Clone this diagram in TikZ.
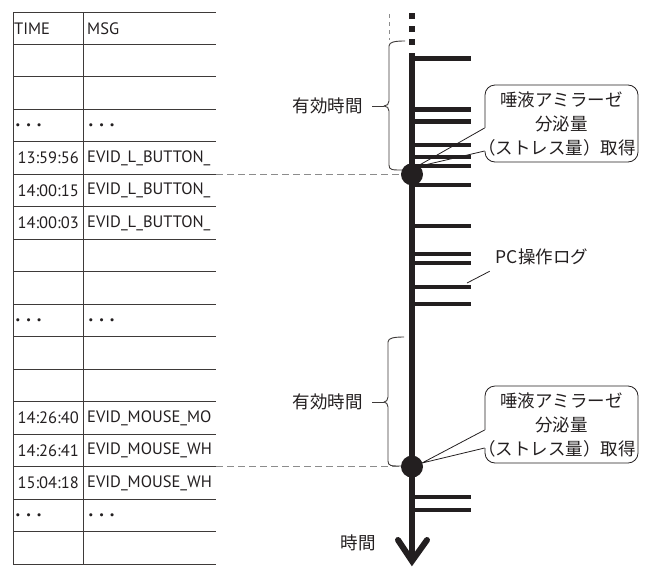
\documentclass[tikz,border=0pt]{standalone}
\usepackage{fontspec}
\setmainfont{Noto Sans CJK JP}
\newfontfamily\tablefont{PT Sans}
\usepackage{tikz}
\usetikzlibrary{calc}
\definecolor{ink}{HTML}{231F20}
\definecolor{rule}{HTML}{3E3A39}
\definecolor{dashgray}{HTML}{8C8C8C}
\def\rowh{32.47}

\begin{document}
\begin{tikzpicture}[x=1pt,y=-1pt,line join=round]
    		\tikzstyle{cell}=[inner sep=0pt,text=ink,font=\tablefont\fontsize{16.5}{18}\selectfont]
    		\tikzstyle{time cell}=[cell,anchor=east]
    		\tikzstyle{msg cell}=[cell,anchor=west]
    		\tikzstyle{dots cell}=[cell,anchor=west,font=\fontsize{20}{20}\selectfont\boldmath]
    		\tikzstyle{log tick}=[draw=ink,line width=4.3pt]
    		\tikzstyle{stress dot}=[circle,fill=ink,minimum size=22pt,inner sep=0pt]
    		\tikzstyle{callout box}=[draw=ink,line width=0.8pt,rounded corners=10pt,minimum width=153pt,minimum height=77pt,inner sep=0pt,align=center,text=ink,font=\fontsize{17.5}{24}\selectfont]
    		\tikzstyle{period text}=[text=ink,inner sep=6pt,font=\fontsize{17.5}{20}\selectfont]
    		\tikzstyle{brace}=[draw=rule,line width=0.9pt]
    		\tikzstyle{guide}=[draw=dashgray,line width=1pt,dash pattern=on 7pt off 4pt]
    		
    		\useasboundingbox (0,0) rectangle (647,568);
    		
    		\foreach \r in {0,...,17}
    		  \draw[rule,line width=1pt] (13,{12+\r*\rowh}) -- (216,{12+\r*\rowh});
    		\draw[rule,line width=1pt] (13,12) -- (13,564) (83,12) -- (83,564);
    		
    		\begin{scope}
    		  \clip (0,0) rectangle (215.5,568);
    		  \node[msg cell] (t0) at (14,{12+0.5*\rowh}) {TIME};
    		  \node[msg cell] (m0) at (87,{12+0.5*\rowh}) {MSG};
    		  \foreach \r/\t/\m in {4/13:59:56/EVID\_L\_BUTTON\_,5/14:00:15/EVID\_L\_BUTTON\_,6/14:00:03/EVID\_L\_BUTTON\_,12/14:26:40/EVID\_MOUSE\_MO,13/14:26:41/EVID\_MOUSE\_WH,14/15:04:18/EVID\_MOUSE\_WH}{
    		    \node[time cell] (t\r) at (79,{12+(\r+0.5)*\rowh}) {\t};
    		    \node[msg cell] (m\r) at (87,{12+(\r+0.5)*\rowh}) {\m};
    		  }
    		  \foreach \r in {3,9,15}{
    		    \node[dots cell] (t\r) at (14.5,{12+(\r+0.5)*\rowh}) {$\cdots$};
    		    \node[dots cell] (m\r) at (87.5,{12+(\r+0.5)*\rowh}) {$\cdots$};
    		  }
    		\end{scope}
    		
    		\coordinate (row5) at (216,{12+5*\rowh});
    		\coordinate (row14) at (216,{12+14*\rowh});
    		\coordinate (top) at (412,53);
    		\coordinate (bottom) at (412,561);
    		
    		\foreach \y in {15.5,29,41.5}
    		  \fill[ink] (409,{\y-3}) rectangle (415,{\y+3});
    		\draw[ink,line width=6pt] (top) -- (bottom);
    		\draw[ink,line width=6pt,line cap=round,line join=miter] (398,540) -- (bottom) -- (427,540);
    		\foreach \y in {58.5,109.5,121.5,145,157,166,185,226,254,263,287,304,497,510}
    		  \draw[log tick] (412,\y) -- (471,\y);
    		
    		\node[stress dot] (s1) at (412,{12+5*\rowh}) {};
    		\node[stress dot] (s2) at (412,{12+14*\rowh}) {};
    		\draw[guide] (row5) -- (s1);
    		\draw[guide] (row14) -- (s2);
    		
    		\coordinate (b1tip) at (384,106);
    		\coordinate (b2tip) at (384,402);
    		\draw[guide,dash pattern=on 4pt off 4pt] (389,14) -- (389,40);
    		\draw[brace] (405,41) .. controls (395,41) and (389,42) .. (389,46) -- (389,101)
    		  .. controls (389,104) and (387,106) .. (b1tip) .. controls (387,106) and (389,108) .. (389,111)
    		  -- (389,165) .. controls (389,170) and (392,170) .. (402,170);
    		\draw[brace] (404,337) .. controls (394,337) and (388,338) .. (388,342) -- (388,397)
    		  .. controls (388,400) and (386,402) .. (b2tip) .. controls (386,402) and (388,404) .. (388,407)
    		  -- (388,461) .. controls (388,466) and (391,466) .. (401,466);
    		\node[period text,anchor=east] (eff1) at (369,106) {有効時間};
    		\node[period text,anchor=east] (eff2) at (369,402) {有効時間};
    		\draw[brace,shorten <=3pt] (eff1.east) -- (b1tip);
    		\draw[brace,shorten <=3pt] (eff2.east) -- (b2tip);
    		
    		\node[period text] (timeaxis) at (358,543) {時間};
    		\node[period text] (pclog) at (542,257) {PC操作ログ};
    		\coordinate (logtick) at (467,283);
    		\draw[ink,line width=0.8pt] (logtick) -- (pclog.south west);
    		
    		\node[callout box] (c1) at (561.5,123.5) {唾液アミラーゼ\\分泌量\\\hspace*{-0.5em}（ストレス量）取得};
    		\coordinate (c1a) at ($(c1.west)+(0,4.5)$);
    		\coordinate (c1b) at ($(c1.west)+(0,27.5)$);
    		\coordinate (tip1) at (416,167);
    		\fill[white] ($(c1a)+(-1,0)$) rectangle ($(c1b)+(1,0)$);
    		\draw[ink,line width=0.8pt] (c1a) -- (tip1) -- (c1b);
    		
    		\node[callout box] (c2) at (561.5,424.5) {唾液アミラーゼ\\分泌量\\\hspace*{-0.5em}（ストレス量）取得};
    		\coordinate (c2a) at ($(c2.west)+(0,5.5)$);
    		\coordinate (c2b) at ($(c2.west)+(0,23.5)$);
    		\coordinate (tip2) at (422,463);
    		\fill[white] ($(c2a)+(-1,0)$) rectangle ($(c2b)+(1,0)$);
    		\draw[ink,line width=0.8pt] (c2a) -- (tip2) -- (c2b);
    		
    	\end{tikzpicture}
\end{document}
